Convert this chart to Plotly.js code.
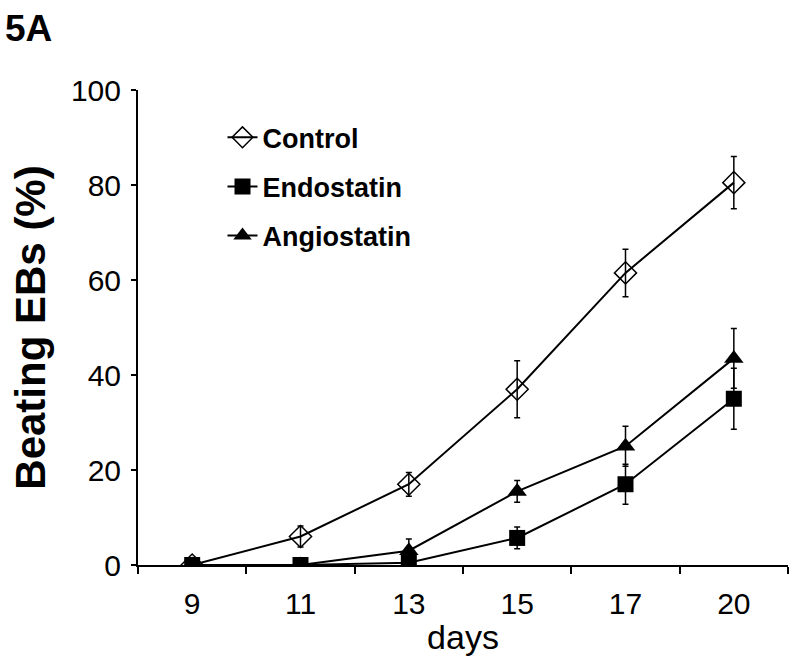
<!DOCTYPE html>
<html>
<head>
<meta charset="utf-8">
<script src="https://cdn.plot.ly/plotly-3.0.1.min.js"></script>
<style>html,body{margin:0;padding:0;background:#fff}#chart{width:798px;height:670px}</style>
</head>
<body>
<div id="chart"></div>
<script>
const days = ["9", "11", "13", "15", "17", "20"];
const controlVals = [0, 6, 17, 37, 61.5, 80.5];
const controlErr = [0, 2.2, 2.5, 6, 5, 5.5];
const endoVals = [0, 0, 0.5, 5.7, 17, 35];
const endoErr = [0, 0, 0, 2.3, 4.2, 6.4];
const angioVals = [0, 0, 3, 15.5, 25, 43.5];
const angioErr = [0, 0, 2.5, 2.3, 4.2, 6.3];

const font = "Liberation Sans, Arial, sans-serif";
const errStyle = (arr) => ({type: "data", array: arr, visible: true, color: "#000", thickness: 1.5, width: 3});

const traces = [
  {x: days, y: controlVals, name: "Control", mode: "lines+markers", legendrank: 1, legendgroup: "a",
   line: {color: "#000", width: 2},
   marker: {symbol: "diamond-open", size: 17, color: "#000", line: {width: 1.5, color: "#000"}},
   error_y: errStyle(controlErr)},
  {x: days, y: angioVals, name: "Angiostatin", mode: "lines+markers", legendrank: 3, legendgroup: "c",
   line: {color: "#000", width: 2},
   marker: {symbol: "triangle-up", size: 17, color: "#000"},
   error_y: errStyle(angioErr)},
  {x: days, y: endoVals, name: "Endostatin", mode: "lines+markers", legendrank: 2, legendgroup: "b",
   line: {color: "#000", width: 2},
   marker: {symbol: "square", size: 16, color: "#000"},
   error_y: errStyle(endoErr)}
];

const layout = {
  width: 798, height: 670,
  margin: {l: 138, r: 10, t: 90, b: 105},
  paper_bgcolor: "#fff", plot_bgcolor: "#fff",
  font: {family: font, color: "#000"},
  showlegend: true,
  legend: {x: 0.13, y: 0.951, xanchor: "left", yanchor: "top", bgcolor: "rgba(0,0,0,0)",
           font: {size: 27, family: font, weight: "bold"}, itemwidth: 30, tracegroupgap: 11},
  xaxis: {type: "category", range: [-0.5, 5.5], showgrid: false, zeroline: false,
          showline: true, linecolor: "#000", linewidth: 2,
          ticks: "outside", tickson: "boundaries", ticklen: 7, tickwidth: 2, tickcolor: "#000",
          tickfont: {size: 30, family: font}, ticklabelstandoff: 11,
          title: {text: "days", font: {size: 34, family: font}, standoff: 6}},
  yaxis: {range: [0, 100], dtick: 20, showgrid: false, zeroline: false,
          showline: true, linecolor: "#000", linewidth: 2,
          ticks: "outside", ticklen: 5, tickwidth: 2, tickcolor: "#000",
          tickfont: {size: 30, family: font}, ticklabelstandoff: 4,
          title: {text: "Beating EBs (%)", font: {size: 42, family: font, weight: "bold"}, standoff: 12}},
  annotations: [{text: "5A", xref: "paper", yref: "paper", x: -0.2, y: 1.1, xanchor: "left", yanchor: "bottom",
                 showarrow: false, font: {size: 37, family: font, weight: "bold"}, xshift: -5, yshift: -9}]
};

Plotly.newPlot("chart", traces, layout, {staticPlot: true, displayModeBar: false});
</script>
</body>
</html>
